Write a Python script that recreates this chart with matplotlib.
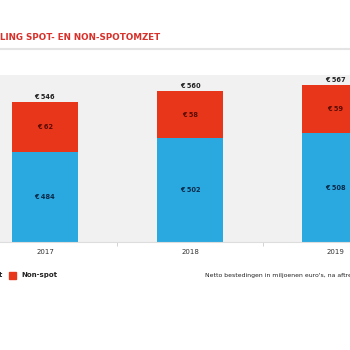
import matplotlib.pyplot as plt
import numpy as np

years = ['2017', '2018', '2019']
spot = [484, 502, 508]
non_spot = [62, 58, 59]
totals = [546, 560, 567]

blue = '#2aa9e0'
red = '#e8361a'

fig = plt.figure(figsize=(3.5, 3.5), dpi=100)
ax = fig.add_axes([0, 0.3086, 1, 0.4771])
ax.set_facecolor('#f1f1f1')

x = np.arange(len(years))
w = 0.455
base = 373
ax.bar(x, np.array(spot) - base, bottom=base, width=w, color=blue)
ax.bar(x, non_spot, bottom=spot, width=w, color=red)

for i in range(len(years)):
    ax.text(x[i], (base + spot[i]) / 2, f'€ {spot[i]}', ha='center', va='center',
            fontsize=4.8, fontweight='bold', color='#0b2a4a')
    ax.text(x[i], spot[i] + non_spot[i] / 2, f'€ {non_spot[i]}', ha='center', va='center',
            fontsize=4.8, fontweight='bold', color='#5a0c05')
    ax.text(x[i], totals[i] + 3, f'€ {totals[i]}', ha='center', va='bottom',
            fontsize=4.8, fontweight='bold', color='#222222')

ax.set_xlim(-0.31, 2.103)
ax.set_ylim(base, 580)
ax.set_xticks(x)
ax.set_xticklabels(years, fontsize=5, color='#333333')
ax.set_xticks([0.5, 1.5], minor=True)
ax.tick_params(axis='x', which='major', length=0, pad=5)
ax.tick_params(axis='x', which='minor', length=3, color='#cccccc')
ax.set_yticks([])
for s in ['top', 'left', 'right']:
    ax.spines[s].set_visible(False)
ax.spines['bottom'].set_color('#dddddd')

fig.text(0, 1 - 37 / 350, 'LING SPOT- EN NON-SPOTOMZET', ha='left', va='center',
         fontsize=6.3, fontweight='bold', color='#d8302a')
fig.add_artist(plt.Line2D([0, 1], [1 - 49 / 350, 1 - 49 / 350], color='#e4e4e4', lw=1.5))

fig.text(3 / 350, 1 - 275 / 350, 'Spot', ha='right', va='center', fontsize=5,
         fontweight='bold', color='#222222')
fig.add_artist(plt.Rectangle((9 / 350, 1 - 279 / 350), 7 / 350, 7 / 350, color=red))
fig.text(21 / 350, 1 - 275 / 350, 'Non-spot', ha='left', va='center', fontsize=5,
         fontweight='bold', color='#222222')
fig.text(205 / 350, 1 - 275 / 350, "Netto bestedingen in miljoenen euro's, na aftrek", ha='left',
         va='center', fontsize=4.4, color='#222222')

fig.savefig('out.png', dpi=100)
